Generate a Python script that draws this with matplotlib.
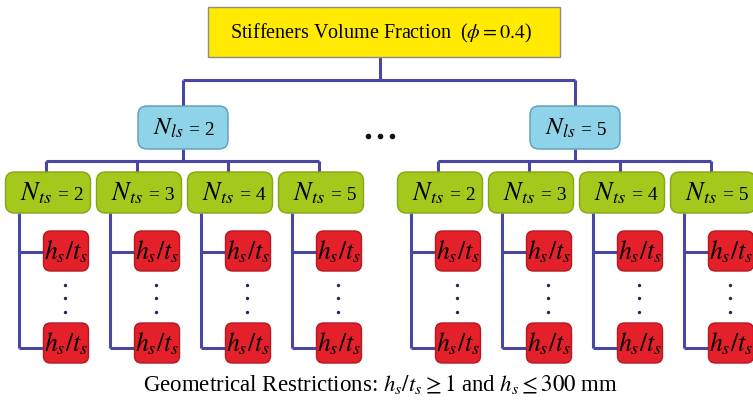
import matplotlib
matplotlib.use('Agg')
import matplotlib.pyplot as plt
from matplotlib.patches import FancyBboxPatch, Rectangle

plt.rcParams['mathtext.fontset'] = 'stix'
plt.rcParams['font.family'] = ['Liberation Serif', 'DejaVu Serif']

# tree content
phi = 0.4
n_ls_values = [2, 5]
n_ts_values = [2, 3, 4, 5]
root_label = r'Stiffeners Volume Fraction  ($\phi = %.1f$)' % phi
ratio_label = r'$h_s/t_s$'
footer_label = r'Geometrical Restrictions: $h_s/t_s \geq 1$ and $h_s \leq 300$ mm'

line_c = '#4848a4'
lw = 2.2

fig = plt.figure(figsize=(7.53, 4.03), dpi=100)
ax = fig.add_axes([0, 0, 1, 1])
ax.set_xlim(0, 753)
ax.set_ylim(403, 0)
ax.axis('off')


def rbox(x0, y0, w, h, fc, ec, r):
    p = FancyBboxPatch((x0 + r, y0 + r), w - 2 * r, h - 2 * r,
                       boxstyle='round,pad=%g' % r, fc=fc, ec=ec, lw=1, zorder=3)
    ax.add_patch(p)


def seg(xs, ys):
    ax.plot(xs, ys, color=line_c, lw=lw, solid_capstyle='butt', zorder=2)


# root box
ax.add_patch(Rectangle((208, 7), 352, 50, fc='#ffea00', ec='#8c8c8c', lw=1, zorder=3))
ax.text(381, 33, root_label, ha='center', va='center', fontsize=14.5, zorder=4)
seg([380, 380], [57, 80])

group_gap = 392
col_gap = 91
centers = [183 + group_gap * g for g in range(len(n_ls_values))]
seg([centers[0], centers[-1]], [80, 80])

for g, n_ls in enumerate(n_ls_values):
    cx = centers[g]
    seg([cx, cx], [80, 106])
    rbox(cx - 45, 106, 90, 43, '#8fd3e8', '#5b9db3', 9)
    ax.text(cx - 30, 135, r'$N_{ls}$', fontsize=18, ha='left', va='baseline', zorder=4)
    ax.text(cx + 6, 135, '= %d' % n_ls, fontsize=14, ha='left', va='baseline', zorder=4)
    seg([cx, cx], [149, 161])

    stems = [cx + col_gap * (j - (len(n_ts_values) - 1) / 2) for j in range(len(n_ts_values))]
    seg([stems[0], stems[-1]], [161, 161])
    for j, n_ts in enumerate(n_ts_values):
        sx = stems[j]
        gl = sx - 41
        seg([sx, sx], [161, 172])
        rbox(gl, 172, 85, 41, '#a5c81c', '#86a414', 9)
        ax.text(gl + 15, 200, r'$N_{ts}$', fontsize=19, ha='left', va='baseline', zorder=4)
        ax.text(gl + 53, 200, '= %d' % n_ts, fontsize=14, ha='left', va='baseline', zorder=4)

        vx = gl + 14
        seg([vx, vx], [213, 348])
        seg([vx, gl + 38], [252, 252])
        seg([vx, gl + 38], [348, 348])
        for ry in (231, 323):
            rbox(gl + 38, ry, 45, 40, '#e4202a', '#b51820', 7)
            ax.text(gl + 60.5, ry + 21, ratio_label, fontsize=18.5, ha='center', va='center', zorder=4)
        ax.plot([gl + 60] * 3, [285, 298, 312], 'o', ms=1.4, color='#1a2a50', zorder=4)

# ellipsis between groups
ax.plot([368, 380, 392], [136, 136, 136], 'o', ms=3.0, color='#111111')

ax.text(381, 384, footer_label, fontsize=16.5, ha='center', va='center')

fig.savefig('out.png', dpi=100)
